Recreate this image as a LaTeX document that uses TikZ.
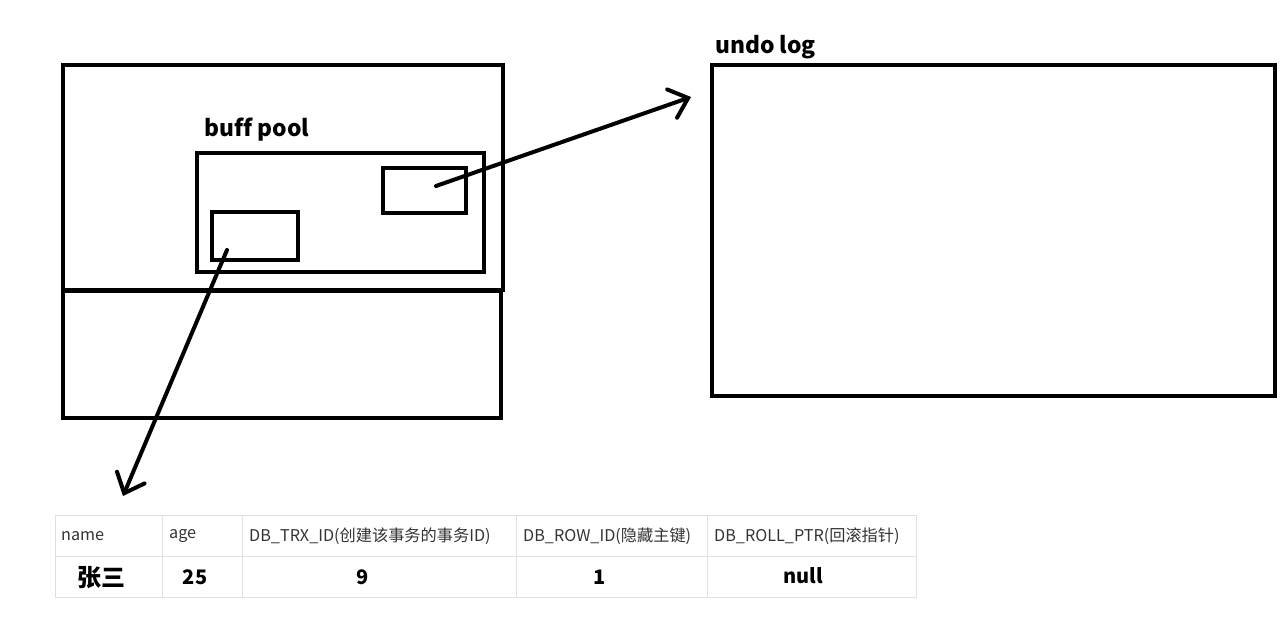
\documentclass[tikz,border=0pt]{standalone}
\usepackage{fontspec}
\setmainfont{Noto Sans CJK SC}
\newfontfamily\cjk[Ligatures=NoCommon]{Noto Sans CJK SC}
\usetikzlibrary{arrows.meta}
\begin{document}
\begin{tikzpicture}[x=1pt,y=-1pt,
  box/.style={draw=black,line width=4pt},
  conn/.style={line width=4pt,line cap=round,-{Straight Barb[length=17pt,width=30pt,line width=4pt,line cap=round]}},
  lbl/.style={anchor=base west,inner sep=0pt,font=\cjk\bfseries\fontsize{22.8}{26}\selectfont},
  cell/.style={draw=black!12,line width=1pt},
  hd/.style={anchor=west,inner sep=0pt,font=\cjk\fontsize{16.2}{19}\selectfont,text=black!80},
  val/.style={anchor=center,inner sep=0pt,font=\cjk\bfseries\fontsize{20}{24}\selectfont}]
\useasboundingbox (0,0) rectangle (1282,617);
% server boxes
\draw[box] (63,65) rectangle (503,290);
\draw[box] (63,291) rectangle (501,418);
\node[lbl] (bplbl) at (204,137) {buf{}f pool};
\draw[box] (197,153) rectangle (484,272);
\draw[box] (383,168) rectangle (466,213);
\draw[box] (212,212) rectangle (298,260);
\node[lbl] (ullbl) at (715,54) {undo log};
\draw[box] (712,65) rectangle (1275,396);
% connectors
\coordinate (a1s) at (436,186);
\coordinate (a1e) at (691,97);
\coordinate (a2s) at (227,250);
\coordinate (a2e) at (123,496);
\draw[conn] (a1s) -- (a1e);
\draw[conn] (a2s) -- (a2e);
% table
\foreach \xa/\xb in {55/162,162/242,242/516,516/707,707/916}{
  \draw[cell] (\xa,515) rectangle (\xb,556);
  \draw[cell] (\xa,556) rectangle (\xb,597);
}
\node[hd] (h1) at (61,536) {name};
\node[hd] (h2) at (169,536) {age};
\node[hd] (h3) at (249,536) {DB\_TRX\_ID(创建该事务的事务ID)};
\node[hd] (h4) at (523,536) {DB\_ROW\_ID(隐藏主键)};
\node[hd] (h5) at (714,536) {DB\_ROLL\_PTR(回滚指针)};
\node[val,font=\cjk\bfseries\fontsize{24}{28}\selectfont] (v1) at (101,578) {张三};
\node[val] (v2) at (195,577) {25};
\node[val] (v3) at (363,577) {9};
\node[val] (v4) at (600,577) {1};
\node[val] (v5) at (803,576) {null};
\end{tikzpicture}
\end{document}
